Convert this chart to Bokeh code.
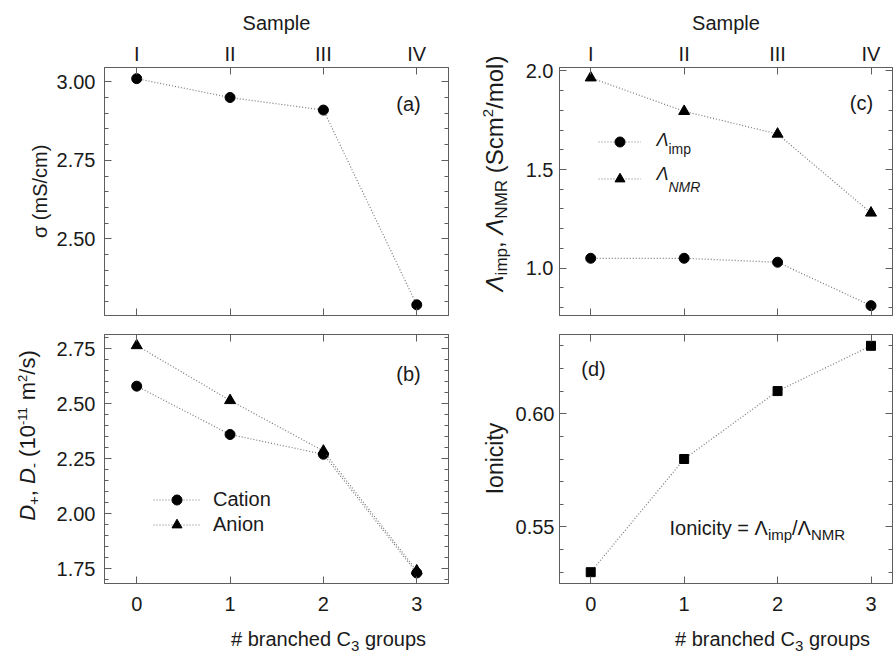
import math
import numpy as np
from bokeh.plotting import figure
from bokeh.models import (FixedTicker, LinearAxis, Range1d, Label, Legend, LegendItem,
                          NumeralTickFormatter)
from bokeh.layouts import column, row
from bokeh.embed import file_html
from bokeh.resources import INLINE

# ---------------- data ----------------
groups = [0, 1, 2, 3]
samples = ["I", "II", "III", "IV"]
group_labels = ["0", "1", "2", "3"]
sigma = [3.01, 2.95, 2.91, 2.29]
d_cation = [2.58, 2.36, 2.27, 1.73]
d_anion = [2.765, 2.515, 2.285, 1.74]
lam_imp = [1.05, 1.05, 1.03, 0.81]
lam_nmr = [1.965, 1.795, 1.68, 1.28]
ionicity = [0.53, 0.58, 0.61, 0.63]

FONT = "Liberation Sans"
AX = "#5e5e5e"
TXT = "#1a1a1a"
LINE = "#777777"
DASH = "1 2"
K_MID = 0.3465   # baseline offset of a 'middle'-anchored text, per px of font size

# Arial / Liberation Sans advance widths (per 1000 em)
WID = {' ': 278, '#': 556, '(': 333, ')': 333, '+': 584, ',': 278, '-': 333, '.': 278, '/': 278,
       '=': 584, 'C': 722, 'D': 722, 'I': 278, 'M': 833, 'N': 722, 'R': 722, 'S': 667,
       'a': 556, 'b': 556, 'c': 500, 'd': 556, 'e': 556, 'g': 556, 'h': 556, 'i': 222, 'l': 222,
       'm': 833, 'n': 556, 'o': 556, 'p': 556, 'r': 333, 's': 500, 't': 278, 'u': 556, 'y': 500,
       'Λ': 667, 'σ': 600}


def tw(s, size):
    return sum(WID.get(c, 556) for c in s) * size / 1000.0


def make_fig(w, h, bl, br, bt, bb, xr, yr):
    p = figure(width=w, height=h, x_range=Range1d(*xr), y_range=Range1d(*yr),
               output_backend="svg", toolbar_location=None,
               x_axis_location=None, y_axis_location=None,
               min_border_left=bl, min_border_right=br, min_border_top=bt, min_border_bottom=bb)
    p.grid.visible = False
    p.outline_line_color = AX
    p.background_fill_color = "white"
    p.border_fill_color = "white"
    return p


def strip(w, h):
    p = figure(width=w, height=h, x_range=Range1d(0, w), y_range=Range1d(0, h),
               output_backend="svg", toolbar_location=None,
               x_axis_location=None, y_axis_location=None, min_border=0)
    p.grid.visible = False
    p.outline_line_color = None
    p.background_fill_color = "white"
    p.border_fill_color = "white"
    return p


def add_axis(p, side, ticks, minor, labels=None, fmt=None, axis_label=None, standoff=8):
    ax = LinearAxis(ticker=FixedTicker(ticks=ticks, minor_ticks=minor))
    ax.axis_line_color = AX
    ax.major_tick_line_color = AX
    ax.minor_tick_line_color = AX
    ax.major_tick_in = 7
    ax.major_tick_out = 0
    ax.minor_tick_in = 4
    ax.minor_tick_out = 0
    ax.major_label_text_font = FONT
    ax.major_label_text_color = TXT
    if labels is None and fmt is None:
        ax.major_label_text_font_size = "1px"
        ax.major_label_standoff = 0
        ax.major_label_overrides = {t: "" for t in ticks}
    else:
        ax.major_label_text_font_size = "20px"
        ax.major_label_standoff = standoff
        if labels is not None:
            ax.major_label_overrides = {t: l for t, l in zip(ticks, labels)}
        if fmt is not None:
            ax.formatter = NumeralTickFormatter(format=fmt)
    if axis_label:
        ax.axis_label = axis_label
        ax.axis_label_text_font = FONT
        ax.axis_label_text_font_size = "20px"
        ax.axis_label_text_font_style = "normal"
        ax.axis_label_text_color = TXT
        ax.axis_label_standoff = 6
    p.add_layout(ax, side)
    return ax


def lab(p, org, x, y, text, size, style="normal", align="left", angle=0.0, on_baseline=True):
    # org = (canvas x of frame left, canvas y of frame bottom); (x, y) canvas coords.
    # When on_baseline, (x, y) is a point on the text baseline.
    if on_baseline:
        if angle:
            x = x - K_MID * size
        else:
            y = y - K_MID * size
    p.add_layout(Label(x=x - org[0], y=org[1] - y, x_units="screen", y_units="screen", text=text,
                       text_font=FONT, text_font_size=f"{size}px", text_font_style=style,
                       text_color=TXT, text_align=align, text_baseline="middle", angle=angle))


def rich_h(p, org, x, y, runs, center=False):
    total = sum(tw(t, s) for t, s, st, dy in runs)
    cx = x - total / 2 if center else x
    for t, s, st, dy in runs:
        lead = tw(t[:len(t) - len(t.lstrip())], s)
        lab(p, org, cx + lead, y + dy, t.strip(), s, st)
        cx += tw(t, s)


def rich_v(p, org, x, yc, runs):
    total = sum(tw(t, s) for t, s, st, dx in runs)
    cy = yc + total / 2
    for t, s, st, dx in runs:
        lead = tw(t[:len(t) - len(t.lstrip())], s)
        lab(p, org, x + dx, cy - lead, t.strip(), s, st, angle=math.pi / 2)
        cy -= tw(t, s)


def series(p, y, marker, size):
    r1 = p.line(groups, y, line_color=LINE, line_width=1.2, line_dash=DASH)
    r2 = p.scatter(groups, y, marker=marker, size=size, fill_color="black", line_color="black")
    return [r1, r2]


def make_legend(items, loc, gw, spacing, fsize):
    return Legend(items=items, location=loc, glyph_width=gw, glyph_height=25, label_height=20,
                  spacing=spacing, padding=0, margin=0, label_standoff=13,
                  border_line_color=None, background_fill_alpha=0,
                  label_text_font=FONT, label_text_font_size=fsize, label_text_color=TXT)


xticks = [0, 1, 2, 3]
LX = (-0.345, 3.34)
RX = (-0.334, 3.23)

# ---------------- (a) top-left ----------------
pa = make_fig(400, 325, 52, 4, 67, 10, LX, (2.256, 3.0455))
ya = [2.50, 2.75, 3.00]
ma = np.round(np.arange(2.30, 3.001, 0.05), 2).tolist()
add_axis(pa, "left", ya, ma, fmt="0.00", standoff=9)
add_axis(pa, "right", ya, ma)
add_axis(pa, "below", xticks, [])
add_axis(pa, "above", xticks, [], labels=samples, axis_label="Sample", standoff=3)
series(pa, sigma, "circle", 10)
lab(pa, (104, 315), 408, 103, "(a)", 20, align="center", on_baseline=False)

# ---------------- (b) bottom-left ----------------
pb = make_fig(400, 294, 52, 4, 9, 36, LX, (1.682, 2.815))
yb = [1.75, 2.00, 2.25, 2.50, 2.75]
mb = np.round(np.arange(1.70, 2.801, 0.05), 2).tolist()
add_axis(pb, "left", yb, mb, fmt="0.00", standoff=9)
add_axis(pb, "right", yb, mb)
add_axis(pb, "below", xticks, [], labels=group_labels, standoff=13)
add_axis(pb, "above", xticks, [])
rc = series(pb, d_cation, "circle", 10)
ra = series(pb, d_anion, "triangle", 11)
pb.add_layout(make_legend([LegendItem(label="Cation", renderers=rc),
                           LegendItem(label="Anion", renderers=ra)], (49, 46), 47, 0, "20px"))
lab(pb, (104, 583), 408, 373, "(b)", 20, align="center", on_baseline=False)

# ---------------- (c) top-right ----------------
pc = make_fig(382, 325, 46, 2, 67, 10, RX, (0.76, 2.017))
yc_ = [1.0, 1.5, 2.0]
mc = np.round(np.arange(0.8, 2.001, 0.1), 1).tolist()
add_axis(pc, "left", yc_, mc, fmt="0.0", standoff=6)
add_axis(pc, "right", yc_, mc)
add_axis(pc, "below", xticks, [])
add_axis(pc, "above", xticks, [], labels=samples, axis_label="Sample", standoff=3)
ri = series(pc, lam_imp, "circle", 10)
rn = series(pc, lam_nmr, "triangle", 11)
pc.add_layout(make_legend([LegendItem(label=" ", renderers=ri),
                           LegendItem(label=" ", renderers=rn)], (39, 124), 43, 12, "1px"))
FC = (558, 315)
lab(pc, FC, 860, 102, "(c)", 20, align="center", on_baseline=False)
rich_h(pc, FC, 655, 146, [("Λ", 18, "italic", 0), ("imp", 14, "normal", 7)])
rich_h(pc, FC, 655, 180, [("Λ", 18, "italic", 0), ("NMR", 14, "italic", 11)])

# ---------------- (d) bottom-right ----------------
pd_ = make_fig(382, 294, 46, 2, 9, 36, RX, (0.525, 0.635))
yd = [0.55, 0.60]
md = np.round(np.arange(0.53, 0.6301, 0.01), 2).tolist()
add_axis(pd_, "left", yd, md, fmt="0.00", standoff=5)
add_axis(pd_, "right", yd, md)
add_axis(pd_, "below", xticks, [], labels=group_labels, standoff=13)
add_axis(pd_, "above", xticks, [])
series(pd_, ionicity, "square", 9)
FD = (558, 583)
lab(pd_, FD, 592, 368, "(d)", 20, align="center", on_baseline=False)
rich_h(pd_, FD, 668, 534, [("Ionicity = Λ", 20, "normal", 0), ("imp", 15, "normal", 5),
                           ("/Λ", 20, "normal", 0), ("NMR", 15, "normal", 5)])

# ---------------- label strips ----------------
sl = strip(52, 658)          # canvas x 0..52
SL = (0, 658)
rich_v(sl, SL, 46, 191, [("σ (mS/cm)", 20, "normal", 0)])
rich_v(sl, SL, 35, 435, [("D", 22, "italic", 0), ("+", 15, "normal", 4), (", ", 22, "normal", 0),
                         ("D", 22, "italic", 0), ("-", 15, "normal", 4), (" (10", 22, "normal", 0),
                         ("-11", 13, "normal", -8), (" m", 22, "normal", 0), ("2", 13, "normal", -8),
                         ("/s)", 22, "normal", 0)])

sm = strip(60, 658)          # canvas x 452..512
SM = (452, 658)
rich_v(sm, SM, 502, 173, [("Λ", 24, "italic", 0), ("imp", 17, "normal", 5), (", ", 24, "normal", 0),
                          ("Λ", 24, "italic", 0), ("NMR", 17, "normal", 5), (" (Scm", 24, "normal", 0),
                          ("2", 15, "normal", -9), ("/mol)", 24, "normal", 0)])
rich_v(sm, SM, 502, 458, [("Ionicity", 23, "normal", 0)])

xl_runs = [("# branched C", 20, "normal", 0), ("3", 15, "normal", 6), (" groups", 20, "normal", 0)]
bl_ = strip(400, 39)         # canvas x 52..452, y 619..658
rich_h(bl_, (52, 658), 276, 645, xl_runs, center=True)
br_ = strip(382, 39)         # canvas x 512..894, y 619..658
rich_h(br_, (512, 658), 725, 645, xl_runs, center=True)

layout = row(sl, column(pa, pb, bl_), sm, column(pc, pd_, br_))
open("out.html", "w").write(file_html(layout, INLINE))
